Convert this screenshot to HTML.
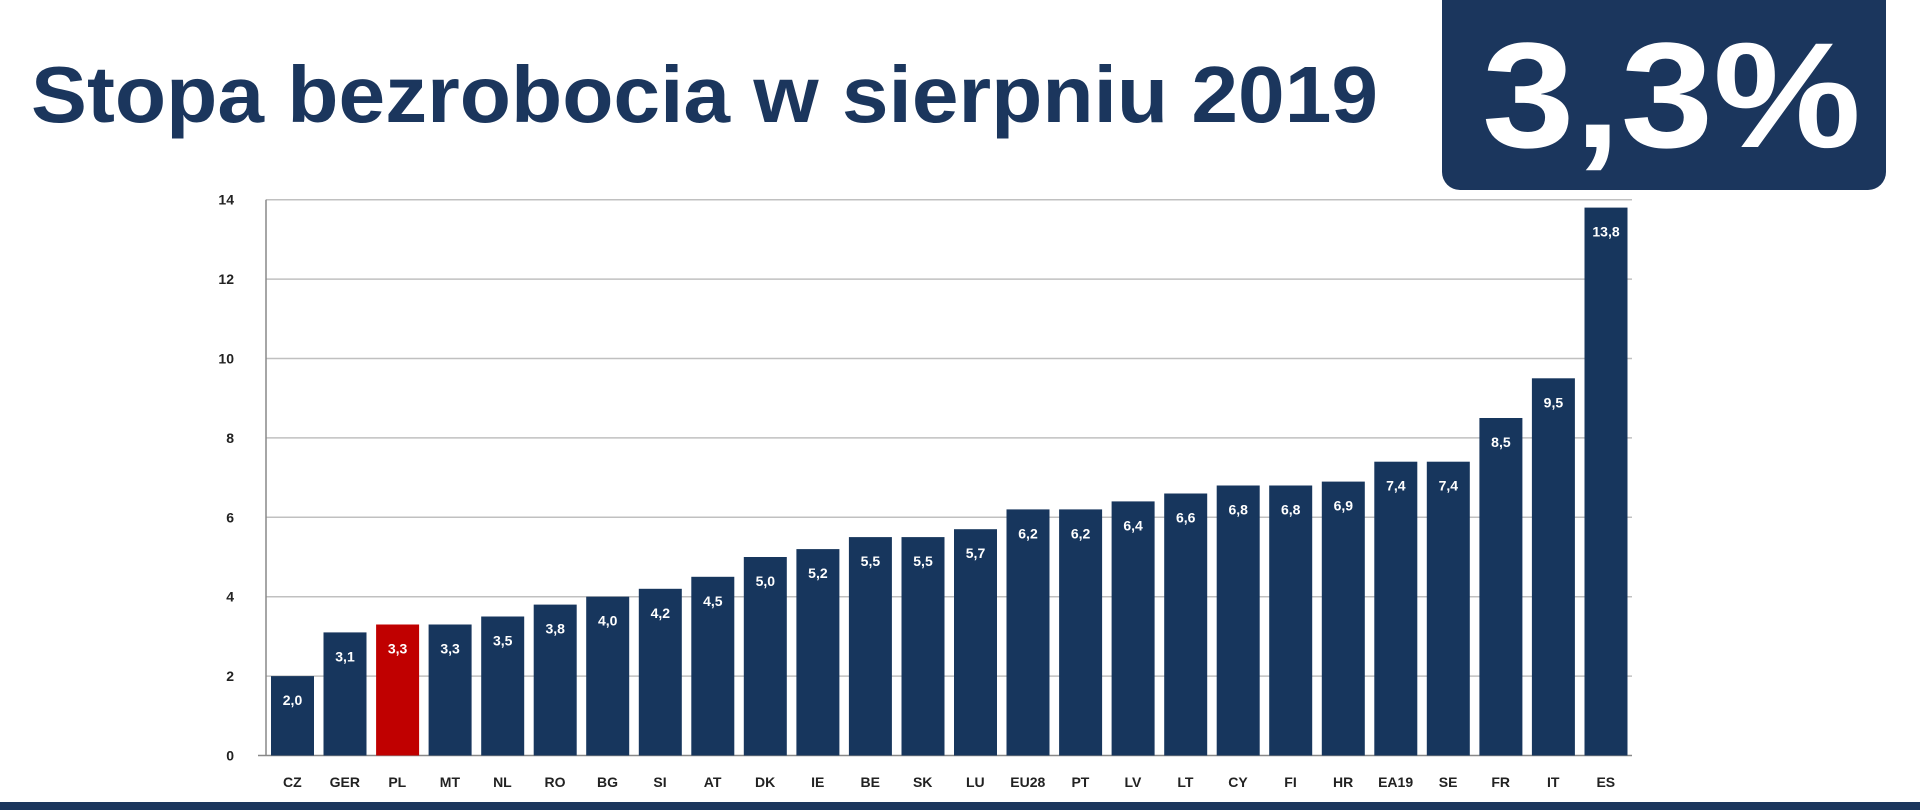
<!DOCTYPE html>
<html><head><meta charset="utf-8"><style>html,body{margin:0;padding:0;background:#fff;}svg{display:block}</style></head>
<body>
<svg width="1920" height="810" xmlns="http://www.w3.org/2000/svg" font-family="'Liberation Sans', sans-serif">
<rect width="1920" height="810" fill="#fff"/>
<text x="31" y="122" font-size="80" font-weight="bold" fill="#1b365d" textLength="1347" lengthAdjust="spacingAndGlyphs">Stopa bezrobocia w sierpniu 2019</text>
<path d="M1442 0 H1886 V172 a18 18 0 0 1 -18 18 H1460 a18 18 0 0 1 -18 -18 Z" fill="#1b365d"/>
<text x="1482" y="147" font-size="150" font-weight="bold" fill="#fff" textLength="379" lengthAdjust="spacingAndGlyphs">3,3%</text>
<g stroke="#c0c0c0" stroke-width="1.5">
<line x1="266" x2="1632" y1="676.1" y2="676.1"/><line x1="266" x2="1632" y1="596.7" y2="596.7"/><line x1="266" x2="1632" y1="517.3" y2="517.3"/><line x1="266" x2="1632" y1="437.9" y2="437.9"/><line x1="266" x2="1632" y1="358.5" y2="358.5"/><line x1="266" x2="1632" y1="279.1" y2="279.1"/><line x1="266" x2="1632" y1="199.7" y2="199.7"/>
</g>
<line x1="258" x2="1632" y1="755.5" y2="755.5" stroke="#888" stroke-width="1.5"/>
<line x1="266" x2="266" y1="199.7" y2="755.5" stroke="#888" stroke-width="1.5"/>
<g font-size="14" font-weight="bold" text-anchor="end" fill="#222">
<text x="234" y="760.5">0</text><text x="234" y="681.1">2</text><text x="234" y="601.7">4</text><text x="234" y="522.3">6</text><text x="234" y="442.9">8</text><text x="234" y="363.5">10</text><text x="234" y="284.1">12</text><text x="234" y="204.7">14</text>
</g>
<g fill="#17365d">
<rect x="271.0" y="676.1" width="43" height="79.4"/>
<rect x="323.5" y="632.4" width="43" height="123.1"/>
<rect x="376.1" y="624.5" width="43" height="131.0" fill="#c00000"/>
<rect x="428.6" y="624.5" width="43" height="131.0"/>
<rect x="481.2" y="616.5" width="43" height="139.0"/>
<rect x="533.7" y="604.6" width="43" height="150.9"/>
<rect x="586.2" y="596.7" width="43" height="158.8"/>
<rect x="638.8" y="588.8" width="43" height="166.7"/>
<rect x="691.3" y="576.8" width="43" height="178.7"/>
<rect x="743.8" y="557.0" width="43" height="198.5"/>
<rect x="796.4" y="549.1" width="43" height="206.4"/>
<rect x="848.9" y="537.1" width="43" height="218.4"/>
<rect x="901.5" y="537.1" width="43" height="218.4"/>
<rect x="954.0" y="529.2" width="43" height="226.3"/>
<rect x="1006.5" y="509.4" width="43" height="246.1"/>
<rect x="1059.1" y="509.4" width="43" height="246.1"/>
<rect x="1111.6" y="501.4" width="43" height="254.1"/>
<rect x="1164.2" y="493.5" width="43" height="262.0"/>
<rect x="1216.7" y="485.5" width="43" height="270.0"/>
<rect x="1269.2" y="485.5" width="43" height="270.0"/>
<rect x="1321.8" y="481.6" width="43" height="273.9"/>
<rect x="1374.3" y="461.7" width="43" height="293.8"/>
<rect x="1426.8" y="461.7" width="43" height="293.8"/>
<rect x="1479.4" y="418.0" width="43" height="337.5"/>
<rect x="1531.9" y="378.3" width="43" height="377.2"/>
<rect x="1584.5" y="207.6" width="43" height="547.9"/>
</g>
<g font-size="14" font-weight="bold" text-anchor="middle" fill="#fff">
<text x="292.5" y="705.1">2,0</text>
<text x="345.0" y="661.4">3,1</text>
<text x="397.6" y="653.5">3,3</text>
<text x="450.1" y="653.5">3,3</text>
<text x="502.7" y="645.5">3,5</text>
<text x="555.2" y="633.6">3,8</text>
<text x="607.7" y="625.7">4,0</text>
<text x="660.3" y="617.8">4,2</text>
<text x="712.8" y="605.8">4,5</text>
<text x="765.3" y="586.0">5,0</text>
<text x="817.9" y="578.1">5,2</text>
<text x="870.4" y="566.1">5,5</text>
<text x="923.0" y="566.1">5,5</text>
<text x="975.5" y="558.2">5,7</text>
<text x="1028.0" y="538.4">6,2</text>
<text x="1080.6" y="538.4">6,2</text>
<text x="1133.1" y="530.4">6,4</text>
<text x="1185.7" y="522.5">6,6</text>
<text x="1238.2" y="514.5">6,8</text>
<text x="1290.7" y="514.5">6,8</text>
<text x="1343.3" y="510.6">6,9</text>
<text x="1395.8" y="490.7">7,4</text>
<text x="1448.3" y="490.7">7,4</text>
<text x="1500.9" y="447.0">8,5</text>
<text x="1553.4" y="407.3">9,5</text>
<text x="1606.0" y="236.6">13,8</text>
</g>
<g font-size="14" font-weight="bold" text-anchor="middle" fill="#222">
<text x="292.3" y="787">CZ</text><text x="344.8" y="787">GER</text><text x="397.3" y="787">PL</text><text x="449.9" y="787">MT</text><text x="502.4" y="787">NL</text><text x="555.0" y="787">RO</text><text x="607.5" y="787">BG</text><text x="660.0" y="787">SI</text><text x="712.6" y="787">AT</text><text x="765.1" y="787">DK</text><text x="817.7" y="787">IE</text><text x="870.2" y="787">BE</text><text x="922.7" y="787">SK</text><text x="975.3" y="787">LU</text><text x="1027.8" y="787">EU28</text><text x="1080.4" y="787">PT</text><text x="1132.9" y="787">LV</text><text x="1185.4" y="787">LT</text><text x="1238.0" y="787">CY</text><text x="1290.5" y="787">FI</text><text x="1343.1" y="787">HR</text><text x="1395.6" y="787">EA19</text><text x="1448.1" y="787">SE</text><text x="1500.7" y="787">FR</text><text x="1553.2" y="787">IT</text><text x="1605.8" y="787">ES</text>
</g>
<rect x="0" y="802" width="1920" height="8" fill="#1b365d"/>
</svg>
</body></html>
